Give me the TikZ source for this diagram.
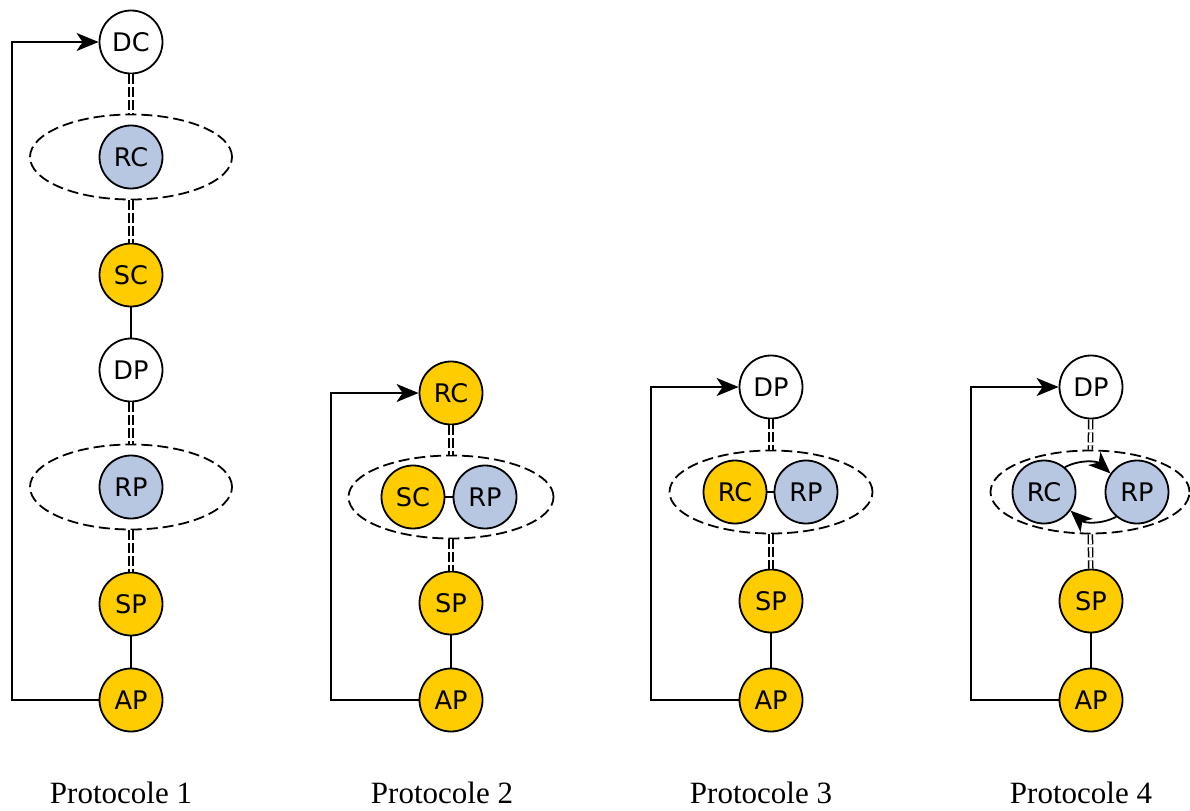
\documentclass[tikz,border=0pt]{standalone}
\usepackage{fontspec}
\setmainfont{Liberation Serif}
\newfontfamily\nodefont{DejaVu Sans}
\usetikzlibrary{shapes.geometric,arrows.meta}
\definecolor{ProtoYellow}{HTML}{FFCC00}
\definecolor{ProtoBlue}{HTML}{B7C7E2}
\tikzset{
  ent/.style={circle,draw,line width=0.9pt,minimum size=31.5pt,inner sep=0pt,font=\nodefont\fontsize{12.8}{15}\selectfont},
  white/.style={ent,fill=white},
  yellow/.style={ent,fill=ProtoYellow},
  blue/.style={ent,fill=ProtoBlue},
  group/.style={ellipse,draw,line width=0.9pt,dash pattern=on 5.5pt off 2.5pt,inner sep=0pt},
  dlink/.style={double,double distance=1.3pt,line width=0.75pt,dash pattern=on 5pt off 1.5pt},
  link/.style={line width=0.7pt},
  flow/.style={line width=0.9pt,-{Stealth[length=11pt,width=9pt,inset=3pt]}},
  caption/.style={font=\fontsize{15.5}{18}\selectfont}
}
\begin{document}
\begin{tikzpicture}[x=0.5pt,y=-0.5pt]
\path[use as bounding box] (0,0) rectangle (1190,810);

\node[group,minimum width=101pt,minimum height=42.5pt] (g1a) at (131,157) {};
\node[group,minimum width=101pt,minimum height=42.5pt] (g1b) at (131,487) {};
\node[white] (dc1) at (131,42) {DC};
\node[blue] (rc1) at (131,157) {RC};
\node[yellow] (sc1) at (131,275) {SC};
\node[white] (dp1) at (131,370) {DP};
\node[blue] (rp1) at (131,487) {RP};
\node[yellow] (sp1) at (131,604) {SP};
\node[yellow] (ap1) at (131,700) {AP};
\draw[dlink] (dc1) -- (g1a);
\draw[dlink] (g1a) -- (sc1);
\draw[link] (sc1) -- (dp1);
\draw[dlink] (dp1) -- (g1b);
\draw[dlink] (g1b) -- (sp1);
\draw[link] (sp1) -- (ap1);
\coordinate (k1) at (12,700);
\draw[flow] (ap1.west) -- (k1) |- (dc1.west);
\node[caption] (p1) at (121,793) {Protocole 1};

\node[group,minimum width=102.5pt,minimum height=41.5pt] (g2) at (451,497) {};
\node[yellow] (rc2) at (451,393) {RC};
\node[yellow] (sc2) at (413,497) {SC};
\node[blue] (rp2) at (485,497) {RP};
\node[yellow] (sp2) at (451,603) {SP};
\node[yellow] (ap2) at (451,700) {AP};
\draw[dlink] (rc2) -- (g2);
\draw[link] (sc2) -- (rp2);
\draw[dlink] (g2) -- (sp2);
\draw[link] (sp2) -- (ap2);
\coordinate (k2) at (331,700);
\draw[flow] (ap2.west) -- (k2) |- (rc2.west);
\node[caption] (p2) at (442,793) {Protocole 2};

\node[group,minimum width=101.5pt,minimum height=41.5pt] (g3) at (771,492) {};
\node[white] (dp3) at (771,387) {DP};
\node[yellow] (rc3) at (735,492) {RC};
\node[blue] (rp3) at (806,492) {RP};
\node[yellow] (sp3) at (771,601) {SP};
\node[yellow] (ap3) at (771,700) {AP};
\draw[dlink] (dp3) -- (g3);
\draw[link] (rc3) -- (rp3);
\draw[dlink] (g3) -- (sp3);
\draw[link] (sp3) -- (ap3);
\coordinate (k3) at (651,700);
\draw[flow] (ap3.west) -- (k3) |- (dp3.west);
\node[caption] (p3) at (761,793) {Protocole 3};

\node[group,minimum width=99.5pt,minimum height=41.5pt] (g4) at (1090,492) {};
\node[white] (dp4) at (1091,387) {DP};
\node[blue] (rc4) at (1044,492) {RC};
\node[blue] (rp4) at (1137,492) {RP};
\node[yellow] (sp4) at (1091,601) {SP};
\node[yellow] (ap4) at (1091,700) {AP};
\draw[dlink] (dp4) -- (g4);
\draw[flow] (rc4.50) to[bend left=35] (rp4.145);
\draw[flow] (rp4.-130) to[bend left=35] (rc4.-35);
\draw[dlink] (g4) -- (sp4);
\draw[link] (sp4) -- (ap4);
\coordinate (k4) at (971,700);
\draw[flow] (ap4.west) -- (k4) |- (dp4.west);
\node[caption] (p4) at (1081,793) {Protocole 4};
\end{tikzpicture}
\end{document}
